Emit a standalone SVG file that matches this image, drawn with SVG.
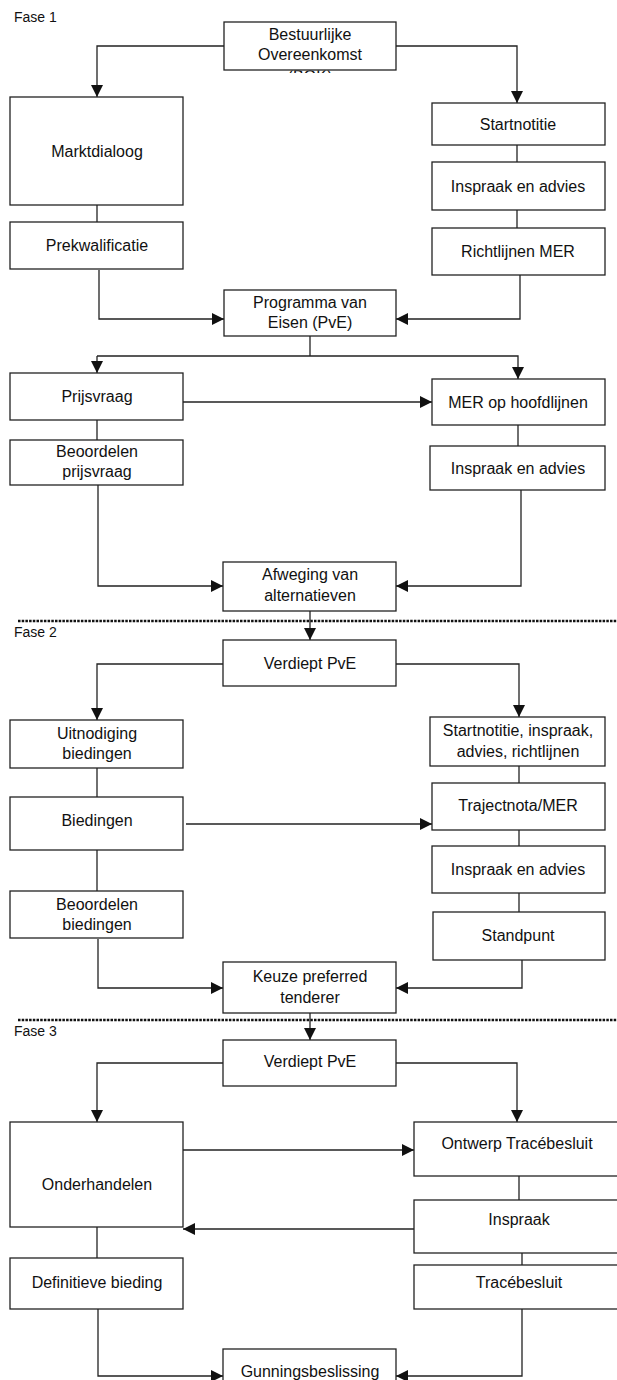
<svg xmlns="http://www.w3.org/2000/svg" width="617" height="1380" viewBox="0 0 617 1380">
<style>
.box{fill:#fff;stroke:#222;stroke-width:1.3}
.t{font-family:"Liberation Sans",Arial,sans-serif;font-size:16px;fill:#111;text-anchor:middle}
.lbl{font-family:"Liberation Sans",Arial,sans-serif;font-size:14px;fill:#111}
.c{fill:none;stroke:#222;stroke-width:1.3}
.a{marker-end:url(#ah)}
.dot{stroke:#111;stroke-width:2.5;stroke-dasharray:2.5 1.2}
</style>
<defs>
<marker id="ah" markerUnits="userSpaceOnUse" markerWidth="13" markerHeight="12" refX="12" refY="6" orient="auto">
<path d="M0,0 L12,6 L0,12 z" fill="#111"/>
</marker>
<clipPath id="clipBOK"><rect x="224" y="70.5" width="172" height="2.5"/></clipPath>
</defs>
<rect width="617" height="1380" fill="#fff"/>

<g id="phases">
<text class="lbl" x="14" y="22">Fase 1</text>
<line class="dot" x1="18" y1="621" x2="617" y2="621"/>
<text class="lbl" x="14" y="637">Fase 2</text>
<line class="dot" x1="18" y1="1020" x2="617" y2="1020"/>
<text class="lbl" x="14" y="1036">Fase 3</text>
</g>

<g id="connectors">
<polyline class="c a" points="225,46 97,46 97,97"/>
<polyline class="c a" points="392,46 517,46 517,103"/>
<line class="c" x1="97" y1="205" x2="97" y2="222"/>
<line class="c" x1="517" y1="145" x2="517" y2="162"/>
<line class="c" x1="517" y1="210" x2="517" y2="228"/>
<polyline class="c a" points="99,270 99,319 224,319"/>
<polyline class="c a" points="520,275 520,319 396,319"/>
<polyline class="c" points="310,336 310,356"/>
<polyline class="c a" points="97,356 97,373"/>
<polyline class="c a" points="97,356 518,356 518,379"/>
<line class="c a" x1="183" y1="402" x2="432" y2="402"/>
<line class="c" x1="97" y1="420" x2="97" y2="440"/>
<line class="c" x1="518" y1="425" x2="518" y2="446"/>
<polyline class="c a" points="98,485 98,586 223,586"/>
<polyline class="c a" points="521,490 521,586 396,586"/>
<line class="c a" x1="310" y1="611" x2="310" y2="640"/>
<polyline class="c a" points="224,664 97,664 97,720"/>
<polyline class="c a" points="396,664 519,664 519,717"/>
<line class="c" x1="97" y1="768" x2="97" y2="797"/>
<line class="c" x1="519" y1="766" x2="519" y2="783"/>
<line class="c a" x1="186" y1="824" x2="432" y2="824"/>
<line class="c" x1="519" y1="830" x2="519" y2="846"/>
<line class="c" x1="519" y1="893" x2="519" y2="912"/>
<line class="c" x1="97" y1="850" x2="97" y2="891"/>
<polyline class="c a" points="98,939 98,988 223,988"/>
<polyline class="c a" points="522,960 522,988 396,988"/>
<line class="c a" x1="310" y1="1013" x2="310" y2="1040"/>
<polyline class="c a" points="224,1063 97,1063 97,1122"/>
<polyline class="c a" points="396,1063 517,1063 517,1122"/>
<line class="c a" x1="183" y1="1150" x2="414" y2="1150"/>
<line class="c" x1="519" y1="1176" x2="519" y2="1200"/>
<line class="c a" x1="414" y1="1229" x2="183" y2="1229"/>
<line class="c" x1="97" y1="1227" x2="97" y2="1258"/>
<line class="c" x1="522" y1="1253" x2="522" y2="1265"/>
<polyline class="c a" points="98,1309 98,1376 223,1376"/>
<polyline class="c a" points="522,1309 522,1376 396,1376"/>
</g>

<g id="n-bestuurlijke">
<rect class="box" x="224" y="22" width="172" height="48"/>
<text class="t" x="310" y="40">Bestuurlijke</text>
<text class="t" x="310" y="60">Overeenkomst</text>
<text class="t" x="310" y="82" clip-path="url(#clipBOK)">(BOK)</text>
</g>
<g id="n-marktdialoog">
<rect class="box" x="10" y="97" width="173" height="108"/>
<text class="t" x="97" y="157">Marktdialoog</text>
</g>
<g id="n-prekwalificatie">
<rect class="box" x="10" y="222" width="173" height="47"/>
<text class="t" x="97" y="251">Prekwalificatie</text>
</g>
<g id="n-startnotitie">
<rect class="box" x="432" y="103" width="173" height="42"/>
<text class="t" x="518" y="130">Startnotitie</text>
</g>
<g id="n-inspraak1">
<rect class="box" x="432" y="162" width="173" height="48"/>
<text class="t" x="518" y="192">Inspraak en advies</text>
</g>
<g id="n-richtlijnen">
<rect class="box" x="432" y="228" width="173" height="47"/>
<text class="t" x="518" y="257">Richtlijnen MER</text>
</g>
<g id="n-pve">
<rect class="box" x="224" y="290" width="172" height="46"/>
<text class="t" x="310" y="308">Programma van</text>
<text class="t" x="310" y="328">Eisen (PvE)</text>
</g>
<g id="n-prijsvraag">
<rect class="box" x="10" y="373" width="173" height="47"/>
<text class="t" x="97" y="402">Prijsvraag</text>
</g>
<g id="n-mer">
<rect class="box" x="432" y="379" width="173" height="46"/>
<text class="t" x="518" y="408">MER op hoofdlijnen</text>
</g>
<g id="n-beoordelen-prijsvraag">
<rect class="box" x="10" y="440" width="173" height="45"/>
<text class="t" x="97" y="457">Beoordelen</text>
<text class="t" x="97" y="477">prijsvraag</text>
</g>
<g id="n-inspraak2">
<rect class="box" x="430" y="446" width="175" height="44"/>
<text class="t" x="518" y="474">Inspraak en advies</text>
</g>
<g id="n-afweging">
<rect class="box" x="223" y="562" width="173" height="49"/>
<text class="t" x="310" y="580">Afweging  van</text>
<text class="t" x="310" y="601">alternatieven</text>
</g>
<g id="n-verdiept1">
<rect class="box" x="223" y="640" width="173" height="46"/>
<text class="t" x="310" y="669">Verdiept PvE</text>
</g>
<g id="n-uitnodiging">
<rect class="box" x="10" y="720" width="173" height="48"/>
<text class="t" x="97" y="739">Uitnodiging</text>
<text class="t" x="97" y="759">biedingen</text>
</g>
<g id="n-startnotitie2">
<rect class="box" x="430" y="717" width="175" height="49"/>
<text class="t" x="518" y="736">Startnotitie, inspraak,</text>
<text class="t" x="518" y="757">advies, richtlijnen</text>
</g>
<g id="n-biedingen">
<rect class="box" x="10" y="797" width="173" height="53"/>
<text class="t" x="97" y="826">Biedingen</text>
</g>
<g id="n-trajectnota">
<rect class="box" x="432" y="783" width="173" height="47"/>
<text class="t" x="518" y="811">Trajectnota/MER</text>
</g>
<g id="n-inspraak3">
<rect class="box" x="432" y="846" width="173" height="47"/>
<text class="t" x="518" y="875">Inspraak en advies</text>
</g>
<g id="n-beoordelen-biedingen">
<rect class="box" x="10" y="891" width="173" height="47"/>
<text class="t" x="97" y="910">Beoordelen</text>
<text class="t" x="97" y="930">biedingen</text>
</g>
<g id="n-standpunt">
<rect class="box" x="433" y="912" width="172" height="48"/>
<text class="t" x="518" y="941">Standpunt</text>
</g>
<g id="n-keuze">
<rect class="box" x="223" y="962" width="173" height="51"/>
<text class="t" x="310" y="982">Keuze preferred</text>
<text class="t" x="310" y="1003">tenderer</text>
</g>
<g id="n-verdiept2">
<rect class="box" x="223" y="1040" width="173" height="46"/>
<text class="t" x="310" y="1067">Verdiept PvE</text>
</g>
<g id="n-onderhandelen">
<rect class="box" x="10" y="1122" width="173" height="105"/>
<text class="t" x="97" y="1190">Onderhandelen</text>
</g>
<g id="n-ontwerp">
<rect class="box" x="414" y="1122" width="210" height="54"/>
<text class="t" x="517" y="1149">Ontwerp Tracébesluit</text>
</g>
<g id="n-inspraak4">
<rect class="box" x="414" y="1200" width="210" height="53"/>
<text class="t" x="519" y="1225">Inspraak</text>
</g>
<g id="n-definitieve">
<rect class="box" x="10" y="1258" width="173" height="51"/>
<text class="t" x="97" y="1288">Definitieve bieding</text>
</g>
<g id="n-tracebesluit">
<rect class="box" x="414" y="1265" width="210" height="44"/>
<text class="t" x="519" y="1288">Tracébesluit</text>
</g>
<g id="n-gunning">
<rect class="box" x="223" y="1349" width="173" height="40"/>
<text class="t" x="310" y="1377">Gunningsbeslissing</text>
</g>
</svg>
